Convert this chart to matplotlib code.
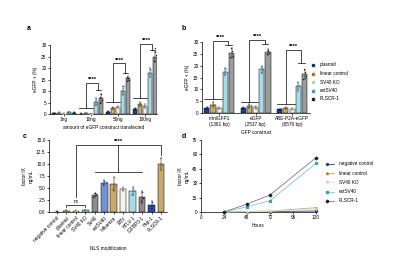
import matplotlib
matplotlib.use("Agg")
import matplotlib.pyplot as plt
from matplotlib.lines import Line2D
import numpy as np

plt.rcParams['font.family'] = ['Liberation Sans', 'DejaVu Sans']

# ---------------- data ----------------
series = ['plasmid', 'linear control', 'SV40 KO', 'extSV40', 'PLSCR-1']
bar_colors = ['#1f3f95', '#c9a96e', '#f3efe4', '#a8dbe8', '#9c9c9c']
dot_colors = ['#10308a', '#a47a30', '#cfc6ae', '#3a9cc8', '#222222']

a_groups = ['1ng', '10ng', '50ng', '100ng']
a_means = [[0.3, 0.6, 0.2, 0.7, 0.5],
           [0.2, 0.3, 0.1, 5.3, 6.8],
           [1.0, 2.7, 3.0, 10.2, 15.5],
           [2.3, 4.3, 3.5, 18.0, 25.0]]
a_sd = [[0.1, 0.3, 0.1, 0.2, 0.2],
        [0.1, 0.2, 0.1, 1.5, 2.0],
        [0.2, 0.5, 0.5, 2.0, 1.0],
        [0.4, 1.0, 0.8, 2.0, 2.5]]
a_reps = [[[0.2, 0.4, 0.3], [0.4, 0.8, 0.6], [0.1, 0.3, 0.2], [0.6, 0.9, 0.7], [0.4, 0.7, 0.5]],
          [[0.1, 0.3, 0.2], [0.2, 0.5, 0.3], [0.1, 0.2, 0.1], [4.0, 5.5, 6.5, 5.0], [5.0, 7.5, 8.5, 6.0]],
          [[0.8, 1.2, 1.0], [2.2, 3.1, 2.8], [2.5, 3.4, 3.1], [8.5, 11.5, 10.5, 12.0], [14.5, 16.0, 15.5, 15.0]],
          [[1.9, 2.7, 2.3], [3.4, 5.2, 4.4], [2.8, 4.2, 3.6], [16.5, 19.5, 18.0, 19.0], [23.0, 27.0, 28.5, 25.5]]]
a_brackets = [None,
              (2.5, 13.5, 10.4),
              (5.2, 22.0, 17.8),
              (6.8, 30.4, 28.0)]

b_groups = ['miniGFP1\n(1361 bp)', 'eGFP\n(2537 bp)', 'ABE-P2A-eGFP\n(6576 bp)']
b_means = [[2.0, 3.5, 2.0, 17.5, 25.3],
           [2.0, 3.0, 2.5, 18.5, 25.8],
           [1.5, 2.0, 1.8, 11.4, 16.3]]
b_sd = [[0.5, 1.0, 0.5, 1.5, 2.0],
        [0.5, 1.0, 0.6, 1.5, 1.2],
        [0.4, 0.5, 0.4, 1.8, 2.0]]
b_reps = [[[1.5, 2.5, 2.2], [2.8, 4.5, 3.6], [1.6, 2.5, 2.0], [16.0, 19.0, 18.5, 17.0], [23.5, 27.5, 26.0, 24.0]],
          [[1.6, 2.4, 2.1], [2.3, 3.9, 3.2], [2.0, 3.0, 2.6], [17.0, 20.0, 19.5, 18.0], [24.8, 26.8, 26.0, 25.3]],
          [[1.2, 1.8, 1.6], [1.6, 2.4, 2.0], [1.5, 2.1, 1.9], [9.5, 13.0, 12.0, 11.0], [14.5, 18.5, 17.5, 15.5]]]
b_brackets = [(5.9, 30.4, 28.7),
              (4.6, 31.0, 29.0),
              (3.8, 26.6, 21.0)]

c_labels = ['negative control', 'plasmid', 'linear control', 'SV40 KO', 'SV40', 'extSV40',
            'Influenza', 'EBV', 'HTLV-1', 'IGFBP3-1', 'Hsp-1', 'PLSCR-1']
c_means = [0.1, 0.3, 0.3, 0.4, 3.6, 6.1, 5.8, 4.8, 4.4, 3.1, 1.4, 10.0]
c_sd = [0.05, 0.1, 0.1, 0.1, 0.4, 0.5, 1.5, 0.5, 0.9, 1.2, 0.8, 1.3]
c_reps = [[0.1, 0.1, 0.1], [0.3, 0.3, 0.3], [0.2, 0.4, 0.3], [0.3, 0.5, 0.4],
          [3.2, 3.9, 3.7], [5.6, 6.5, 6.2], [4.8, 7.2, 5.5], [4.3, 5.2, 4.9],
          [3.6, 5.0, 4.6], [2.2, 4.1, 3.0], [0.8, 2.0, 1.4], [9.0, 11.2, 9.8]]
c_colors = ['#1f3f95', '#c9a96e', '#f3efe4', '#a8dbe8', '#8c8c8c', '#7193d6',
            '#c9a96e', '#f6f3ec', '#a8dbe8', '#8c8c8c', '#2c4ea8', '#c9a96e']
c_dots = ['#10308a', '#a47a30', '#cfc6ae', '#3a9cc8', '#222222', '#1f4fb0',
          '#a47a30', '#cfc6ae', '#3a9cc8', '#222222', '#1a3aa0', '#a47a30']

d_series = ['negative control', 'linear control', 'SV40 KO', 'extSV40', 'PLSCR-1']
d_hours = [24, 48, 72, 120]
d_values = [[0.0, 0.3, 0.5, 1.0],
            [0.0, 0.5, 1.0, 4.5],
            [0.0, 0.4, 0.8, 3.0],
            [0.0, 5.5, 11.8, 50.7],
            [0.0, 8.3, 17.7, 56.6]]
d_line_colors = ['#1f3f95', '#c9a96e', '#e6dfc8', '#7cc8e0', '#7a7a7a']
d_marker_colors = ['#1f3f95', '#a47a30', '#d8cfb5', '#3a9cc8', '#222222']
d_markers = ['o', '^', 'v', 's', 'D']

# ---------------- figure ----------------
W, H = 400, 276
fig = plt.figure(figsize=(W / 100, H / 100), dpi=100)

FS = 3.4
LW = 0.5


def ax_at(x0, y0, x1, y1):
    return fig.add_axes([x0 / W, 1 - y1 / H, (x1 - x0) / W, (y1 - y0) / H])


def style(ax):
    for s in ['top', 'right']:
        ax.spines[s].set_visible(False)
    for s in ['left', 'bottom']:
        ax.spines[s].set_linewidth(LW)
    ax.tick_params(labelsize=FS, width=LW, length=1.5, pad=1)


def grouped(ax, means, sds, reps, sp, bw):
    for g, (m, s, r) in enumerate(zip(means, sds, reps)):
        for i in range(5):
            x = g + (i - 2) * sp
            ax.bar(x, m[i], width=bw, color=bar_colors[i], edgecolor='black', linewidth=0.35, zorder=2)
            ax.errorbar(x, m[i], yerr=s[i], fmt='none', ecolor='black', elinewidth=0.35,
                        capsize=0.8, capthick=0.35, zorder=3)
            xs = x + np.linspace(-bw * 0.25, bw * 0.25, len(r[i]))
            ax.scatter(xs, r[i], s=1.0, color=dot_colors[i], zorder=4, linewidths=0)


def bracket(ax, g, sp, yl, yt, yr):
    x0, x2 = g - 2 * sp, g
    xl = g - sp
    x3, x4 = g + sp, g + 2 * sp
    xr = g + 1.5 * sp
    kw = dict(color='black', lw=0.5, clip_on=False, zorder=5)
    ax.plot([x0 - sp * 0.4, x2 + sp * 0.4], [yl, yl], **kw)
    ax.plot([xl, xl, xr, xr], [yl, yt, yt, yr], **kw)
    ax.plot([x3, x4], [yr, yr], **kw)
    ax.text((xl + xr) / 2, yt + 0.4, '****', ha='center', va='bottom', fontsize=4.2,
            fontweight='bold', clip_on=False)


# ---- panel a ----
axa = ax_at(50, 45, 157, 114)
style(axa)
sp_a = 0.18
grouped(axa, a_means, a_sd, a_reps, sp_a, 0.15)
for g, br in enumerate(a_brackets):
    if br:
        bracket(axa, g, sp_a, *br)
axa.set_xlim(-0.52, 3.44)
axa.set_ylim(0, 30)
axa.set_yticks([0, 5, 10, 15, 20, 25, 30])
axa.set_xticks(range(4))
axa.set_xticklabels(a_groups)
axa.set_ylabel('eGFP + (%)', fontsize=FS, labelpad=2)
axa.set_xlabel('amount of eGFP construct transfected', fontsize=FS, labelpad=2)

# ---- panel b ----
axb = ax_at(202, 42, 310, 113)
style(axb)
sp_b = 0.17
grouped(axb, b_means, b_sd, b_reps, sp_b, 0.14)
for g, br in enumerate(b_brackets):
    bracket(axb, g, sp_b, *br)
axb.set_xlim(-0.47, 2.49)
axb.set_ylim(0, 30)
axb.set_yticks([0, 5, 10, 15, 20, 25, 30])
axb.set_xticks(range(3))
axb.set_xticklabels(b_groups)
axb.set_ylabel('eGFP + (%)', fontsize=FS, labelpad=2)
axb.set_xlabel('GFP construct', fontsize=FS, labelpad=2)

# legend b
for i, name in enumerate(series):
    y = 1 - (65 + i * 8.5) / H
    fig.add_artist(Line2D([313 / W], [y], marker='s', ms=1.6, color=dot_colors[i] if i != 2 else '#cfc6ae',
                          lw=0, transform=fig.transFigure))
    fig.text(320 / W, y, name, fontsize=FS, va='center', ha='left')

# ---- panel c ----
axc = ax_at(49, 140, 167, 212)
style(axc)
xc = np.arange(len(c_labels))
for i in xc:
    axc.bar(i, c_means[i], width=0.7, color=c_colors[i], edgecolor='black', linewidth=0.35, zorder=2)
    axc.errorbar(i, c_means[i], yerr=c_sd[i], fmt='none', ecolor='black', elinewidth=0.35,
                 capsize=0.8, capthick=0.35, zorder=3)
    xs = i + np.linspace(-0.15, 0.15, len(c_reps[i]))
    axc.scatter(xs, c_reps[i], s=1.2, color=c_dots[i], zorder=4, linewidths=0)
axc.set_xlim(-0.85, 11.64)
axc.set_ylim(0, 15)
axc.set_yticks([0, 2.5, 5, 7.5, 10, 12.5, 15])
axc.set_yticklabels(['0.0', '2.5', '5.0', '7.5', '10.0', '12.5', '15.0'])
axc.set_xticks(xc)
axc.set_xticklabels(c_labels, rotation=45, ha='right', rotation_mode='anchor')
axc.set_ylabel('factor IX\nng/mL', fontsize=FS, labelpad=2)
axc.set_xlabel('NLS modification', fontsize=FS, labelpad=2)
kw = dict(color='black', lw=0.5, clip_on=False, zorder=5)
# ns bracket
axc.plot([1, 1, 3, 3], [1.0, 1.4, 1.4, 1.0], **kw)
axc.text(2, 1.6, 'ns', ha='center', va='bottom', fontsize=FS)
# **** bracket
axc.plot([2, 2, 11, 11], [3.2, 13.9, 13.9, 11.9], **kw)
axc.plot([4, 9], [8.4, 8.4], **kw)
axc.plot([6.5, 6.5], [8.4, 13.9], **kw)
axc.text(6.5, 14.1, '****', ha='center', va='bottom', fontsize=4.2, fontweight='bold', clip_on=False)

# ---- panel d ----
axd = ax_at(201, 140, 316, 212)
style(axd)
for k, name in enumerate(d_series):
    axd.plot(d_hours, d_values[k], color=d_line_colors[k], lw=0.6, marker=d_markers[k], ms=1.4,
             mfc=d_marker_colors[k], mec=d_marker_colors[k], zorder=3, clip_on=False)
axd.set_xlim(0, 120)
axd.set_ylim(0, 75)
axd.set_xticks([0, 24, 48, 72, 96, 120])
axd.set_yticks([0, 15, 30, 45, 60, 75])
axd.set_ylabel('factor IX\nng/mL', fontsize=FS, labelpad=2)
axd.set_xlabel('Hours', fontsize=FS, labelpad=2)

for k, name in enumerate(d_series):
    y = 1 - (164 + k * 9.2) / H
    fig.add_artist(Line2D([327 / W, 334 / W], [y, y], color=d_line_colors[k], lw=0.6,
                          marker=d_markers[k], ms=1.4, markevery=[0], mfc=d_marker_colors[k],
                          mec=d_marker_colors[k], transform=fig.transFigure))
    fig.text(339 / W, y, name, fontsize=FS, va='center', ha='left')

# panel letters
for lab, x, y in [('a', 27, 28), ('b', 182, 28), ('c', 23, 137), ('d', 182, 137)]:
    fig.text(x / W, 1 - y / H, lab, fontsize=5, fontweight='bold', va='center', ha='left')

fig.savefig('out.png', dpi=100)
